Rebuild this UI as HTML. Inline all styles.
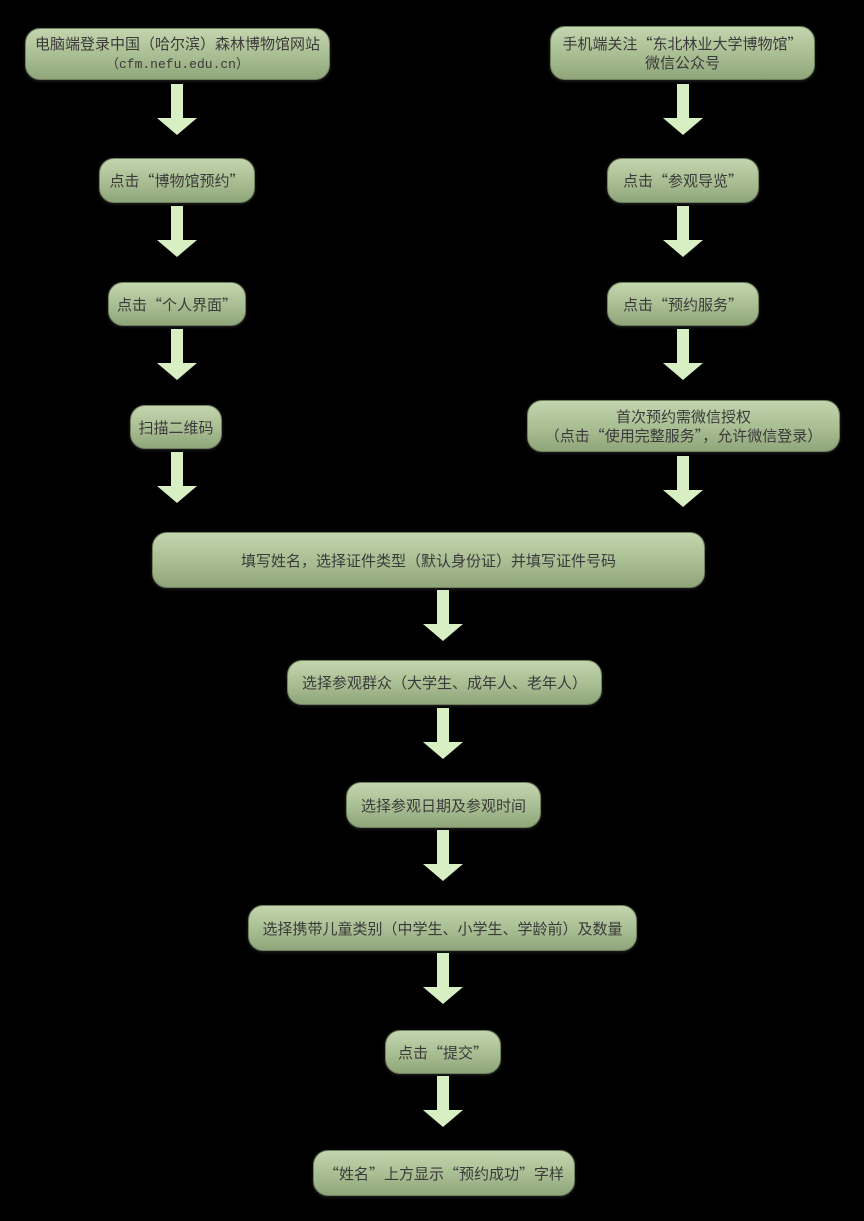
<!DOCTYPE html>
<html><head><meta charset="utf-8"><style>
html,body{margin:0;padding:0;background:#000;}
body{width:864px;height:1221px;position:relative;overflow:hidden;font-family:"Noto Sans CJK SC","Liberation Sans",sans-serif;}
.b{position:absolute;box-sizing:border-box;border-radius:15px;background:linear-gradient(#c3d5ad,#a8bd92 55%,#8fa57a);border:1px solid #6e805e;box-shadow:0 1px 3px rgba(255,255,255,.15);display:flex;align-items:center;justify-content:center;text-align:center;color:#3a3a3a;font-size:15px;line-height:19px;}
.m{font-family:"Liberation Mono","Noto Sans CJK SC",monospace;font-size:13px;}
svg{position:absolute;left:0;top:0;}
</style></head><body>
<svg width="864" height="1221">
<g fill="#d8efc3">
<path d="M171 84h12v34h14l-20 17-20-17h14z"/>
<path d="M171 206h12v34h14l-20 17-20-17h14z"/>
<path d="M171 329h12v34h14l-20 17-20-17h14z"/>
<path d="M171 452h12v34h14l-20 17-20-17h14z"/>
<path d="M677 84h12v34h14l-20 17-20-17h14z"/>
<path d="M677 206h12v34h14l-20 17-20-17h14z"/>
<path d="M677 329h12v34h14l-20 17-20-17h14z"/>
<path d="M677 456h12v34h14l-20 17-20-17h14z"/>
<path d="M437 590h12v34h14l-20 17-20-17h14z"/>
<path d="M437 708h12v34h14l-20 17-20-17h14z"/>
<path d="M437 830h12v34h14l-20 17-20-17h14z"/>
<path d="M437 953h12v34h14l-20 17-20-17h14z"/>
<path d="M437 1076h12v34h14l-20 17-20-17h14z"/>
</g>
</svg>
<div class="b" style="left:25px;top:28px;width:305px;height:52px;"><div>电脑端登录中国（哈尔滨）森林博物馆网站<br><span class="m">（cfm.nefu.edu.cn）</span></div></div>
<div class="b" style="left:99px;top:158px;width:156px;height:45px;">点击“博物馆预约”</div>
<div class="b" style="left:108px;top:282px;width:138px;height:44px;">点击“个人界面”</div>
<div class="b" style="left:130px;top:405px;width:92px;height:44px;">扫描二维码</div>
<div class="b" style="left:550px;top:26px;width:265px;height:54px;">手机端关注“东北林业大学博物馆”<br>微信公众号</div>
<div class="b" style="left:607px;top:158px;width:152px;height:45px;">点击“参观导览”</div>
<div class="b" style="left:607px;top:282px;width:152px;height:44px;">点击“预约服务”</div>
<div class="b" style="left:527px;top:400px;width:313px;height:52px;">首次预约需微信授权<br>（点击“使用完整服务”，允许微信登录）</div>
<div class="b" style="left:152px;top:532px;width:553px;height:56px;">填写姓名，选择证件类型（默认身份证）并填写证件号码</div>
<div class="b" style="left:287px;top:660px;width:315px;height:45px;">选择参观群众（大学生、成年人、老年人）</div>
<div class="b" style="left:346px;top:782px;width:195px;height:46px;">选择参观日期及参观时间</div>
<div class="b" style="left:248px;top:905px;width:389px;height:46px;">选择携带儿童类别（中学生、小学生、学龄前）及数量</div>
<div class="b" style="left:385px;top:1030px;width:116px;height:44px;">点击“提交”</div>
<div class="b" style="left:313px;top:1150px;width:262px;height:46px;">“姓名”上方显示“预约成功”字样</div>
</body></html>
